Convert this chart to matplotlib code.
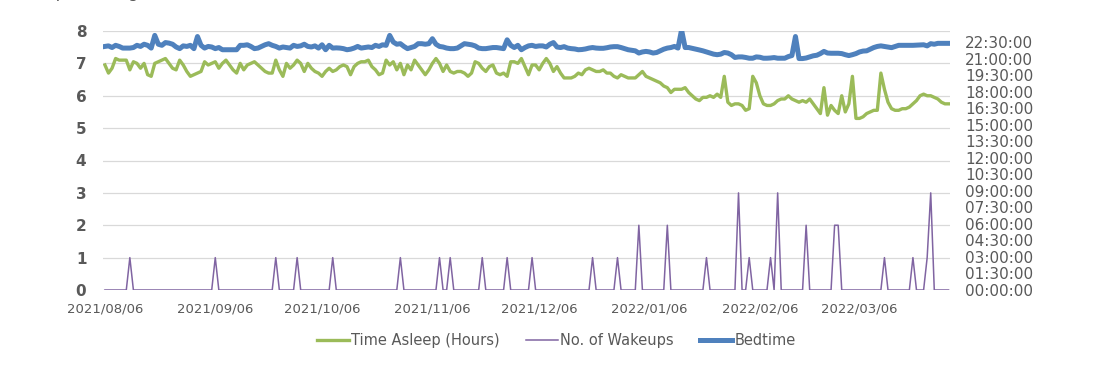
import pandas as pd
import matplotlib
matplotlib.use('Agg')
import matplotlib.pyplot as plt

# daily readings, 2021/08/06 .. 2022/03/31
start_date = '2021-08-06'

sleep_hours = [
    6.95, 6.7, 6.85, 7.15, 7.1, 7.1, 7.1, 6.8, 7.05, 7.0,
    6.85, 7.0, 6.65, 6.6, 7.0, 7.05, 7.1, 7.15, 7.0, 6.85,
    6.8, 7.1, 6.95, 6.75, 6.6, 6.65, 6.7, 6.75, 7.05, 6.95,
    7.0, 7.05, 6.85, 7.0, 7.1, 6.95, 6.8, 6.7, 7.0, 6.8,
    6.95, 7.0, 7.05, 6.95, 6.85, 6.75, 6.7, 6.7, 7.1, 6.8,
    6.6, 7.0, 6.85, 6.95, 7.1, 7.0, 6.75, 7.0, 6.85, 6.75,
    6.7, 6.6, 6.75, 6.85, 6.75, 6.8, 6.9, 6.95, 6.9, 6.65,
    6.9, 7.0, 7.05, 7.05, 7.1, 6.9, 6.8, 6.65, 6.7, 7.1,
    6.95, 7.05, 6.8, 7.0, 6.65, 6.95, 6.8, 7.1, 6.95, 6.8,
    6.65, 6.8, 7.0, 7.15, 7.0, 6.75, 6.95, 6.75, 6.7, 6.75,
    6.75, 6.7, 6.6, 6.7, 7.05, 7.0, 6.85, 6.75, 6.9, 6.95,
    6.7, 6.65, 6.7, 6.6, 7.05, 7.05, 7.0, 7.15, 6.9, 6.65,
    6.95, 6.95, 6.8, 7.0, 7.15, 7.0, 6.75, 6.9, 6.7, 6.55,
    6.55, 6.55, 6.6, 6.7, 6.65, 6.8, 6.85, 6.8, 6.75, 6.75,
    6.8, 6.7, 6.7, 6.6, 6.55, 6.65, 6.6, 6.55, 6.55, 6.55,
    6.65, 6.75, 6.6, 6.55, 6.5, 6.45, 6.4, 6.3, 6.25, 6.1,
    6.2, 6.2, 6.2, 6.25, 6.1, 6.0, 5.9, 5.85, 5.95, 5.95,
    6.0, 5.95, 6.05, 5.95, 6.6, 5.8, 5.7, 5.75, 5.75, 5.7,
    5.55, 5.6, 6.6, 6.4, 6.0, 5.75, 5.7, 5.7, 5.75, 5.85,
    5.9, 5.9, 6.0, 5.9, 5.85, 5.8, 5.85, 5.8, 5.9, 5.75,
    5.6, 5.45, 6.25, 5.4, 5.7, 5.55, 5.45, 6.0, 5.5, 5.75,
    6.6, 5.3, 5.3, 5.35, 5.45, 5.5, 5.55, 5.55, 6.7, 6.2,
    5.8, 5.6, 5.55, 5.55, 5.6, 5.6, 5.65, 5.75, 5.85, 6.0,
    6.05, 6.0, 6.0, 5.95, 5.9, 5.8, 5.75, 5.75,
]

wakeups = [
    0, 0, 0, 0, 0, 0, 0, 1, 0, 0,
    0, 0, 0, 0, 0, 0, 0, 0, 0, 0,
    0, 0, 0, 0, 0, 0, 0, 0, 0, 0,
    0, 1, 0, 0, 0, 0, 0, 0, 0, 0,
    0, 0, 0, 0, 0, 0, 0, 0, 1, 0,
    0, 0, 0, 0, 1, 0, 0, 0, 0, 0,
    0, 0, 0, 0, 1, 0, 0, 0, 0, 0,
    0, 0, 0, 0, 0, 0, 0, 0, 0, 0,
    0, 0, 0, 1, 0, 0, 0, 0, 0, 0,
    0, 0, 0, 0, 1, 0, 0, 1, 0, 0,
    0, 0, 0, 0, 0, 0, 1, 0, 0, 0,
    0, 0, 0, 1, 0, 0, 0, 0, 0, 0,
    1, 0, 0, 0, 0, 0, 0, 0, 0, 0,
    0, 0, 0, 0, 0, 0, 0, 1, 0, 0,
    0, 0, 0, 0, 1, 0, 0, 0, 0, 0,
    2, 0, 0, 0, 0, 0, 0, 0, 2, 0,
    0, 0, 0, 0, 0, 0, 0, 0, 0, 1,
    0, 0, 0, 0, 0, 0, 0, 0, 3, 0,
    0, 1, 0, 0, 0, 0, 0, 1, 0, 3,
    0, 0, 0, 0, 0, 0, 0, 2, 0, 0,
    0, 0, 0, 0, 0, 2, 2, 0, 0, 0,
    0, 0, 0, 0, 0, 0, 0, 0, 0, 1,
    0, 0, 0, 0, 0, 0, 0, 1, 0, 0,
    0, 1, 3, 0, 0, 0, 0, 0,
]

# bedtime as hour of day
bedtime_hours = [
    22.1, 22.15, 22.0, 22.2, 22.1, 21.95, 21.95, 21.95, 22.0, 22.2,
    22.1, 22.3, 22.2, 21.95, 23.1, 22.3, 22.2, 22.45, 22.4, 22.3,
    22.05, 21.9, 22.15, 22.1, 22.2, 21.9, 23.0, 22.2, 21.95, 22.1,
    22.05, 21.9, 22.0, 21.8, 21.8, 21.8, 21.8, 21.8, 22.2, 22.2,
    22.25, 22.1, 21.9, 21.95, 22.1, 22.25, 22.35, 22.2, 22.1, 21.95,
    22.05, 22.0, 21.95, 22.2, 22.1, 22.15, 22.3, 22.1, 22.05, 22.15,
    21.95, 22.25, 21.8, 22.2, 21.95, 21.97, 21.95, 21.9, 21.8, 21.85,
    21.95, 22.1, 21.95, 22.0, 22.05, 22.0, 22.2, 22.1, 22.25, 22.2,
    23.1, 22.5, 22.3, 22.35, 22.1, 21.9, 22.0, 22.1, 22.35, 22.35,
    22.3, 22.35, 22.8, 22.3, 22.1, 22.05, 21.95, 21.9, 21.9, 21.95,
    22.15, 22.35, 22.3, 22.25, 22.15, 21.95, 21.9, 21.9, 21.95, 22.0,
    22.0, 21.95, 21.9, 22.7, 22.2, 22.0, 22.2, 21.8, 22.0, 22.15,
    22.2, 22.1, 22.15, 22.15, 22.05, 22.3, 22.45, 22.05, 22.0, 22.08,
    21.95, 21.9, 21.87, 21.8, 21.82, 21.87, 21.95, 22.0, 21.95, 21.93,
    21.93, 21.98, 22.05, 22.08, 22.08, 22.0, 21.9, 21.8, 21.75, 21.7,
    21.5, 21.6, 21.65, 21.6, 21.5, 21.55, 21.7, 21.85, 21.95, 22.0,
    22.1, 21.95, 23.6, 22.0, 22.0, 21.93, 21.85, 21.78, 21.7, 21.6,
    21.5, 21.4, 21.35, 21.4, 21.55, 21.5, 21.35, 21.1, 21.15, 21.15,
    21.1, 21.03, 21.03, 21.15, 21.12, 21.03, 21.03, 21.05, 21.09, 21.03,
    21.03, 21.03, 21.18, 21.27, 23.0, 21.0, 21.0, 21.05, 21.15, 21.25,
    21.3, 21.45, 21.65, 21.5, 21.48, 21.48, 21.48, 21.45, 21.35, 21.27,
    21.35, 21.45, 21.6, 21.68, 21.7, 21.85, 22.0, 22.1, 22.15, 22.1,
    22.05, 21.99, 22.1, 22.2, 22.2, 22.2, 22.2, 22.2, 22.22, 22.25,
    22.25, 22.15, 22.35, 22.3, 22.38, 22.38, 22.38, 22.38,
]

date_ticks = ['2021-08-06', '2021-09-06', '2021-10-06', '2021-11-06',
              '2021-12-06', '2022-01-06', '2022-02-06', '2022-03-06']
hour_ticks = [i * 1.5 for i in range(16)]

dates = pd.date_range(start_date, periods=len(sleep_hours), freq='D')
data = pd.DataFrame({'sleep': sleep_hours, 'wake': wakeups,
                     'bed': bedtime_hours}, index=dates)

txt = '#595959'
fig = plt.figure(figsize=(10.99, 3.87), dpi=100)
ax = fig.add_axes([103 / 1099, 1 - 290 / 387, 847 / 1099, 259 / 387])
ax2 = ax.twinx()

l1, = ax.plot(data.index, data['sleep'], color='#9bbb59', lw=2.4,
              label='Time Asleep (Hours)', solid_joinstyle='round')
l2, = ax.plot(data.index, data['wake'], color='#8064a2', lw=1.1,
              label='No. of Wakeups')
l3, = ax2.plot(data.index, data['bed'], color='#4f81bd', lw=3.6,
               label='Bedtime', solid_joinstyle='round')

ax.set_ylim(0, 8)
ax.set_yticks(range(0, 9))
ax.grid(axis='y', color='#d9d9d9', lw=0.9)
ax.set_axisbelow(True)
ax2.set_ylim(0, 23.5)
ax2.set_yticks(hour_ticks)
ax2.set_yticklabels(['%02d:%02d:00' % (int(h), round((h % 1) * 60)) for h in hour_ticks])

xt = pd.to_datetime(date_ticks)
ax.set_xticks(xt)
ax.set_xticklabels([d.strftime('%Y/%m/%d') for d in xt])
ax.set_xlim(dates[0] - pd.Timedelta(hours=13), dates[-1] + pd.Timedelta(hours=10))

for a in (ax, ax2):
    for s in a.spines.values():
        s.set_visible(False)
    a.tick_params(length=0, colors=txt)
ax.tick_params(axis='y', labelsize=11, pad=12)
ax.tick_params(axis='x', labelsize=9.5, pad=9)
ax2.tick_params(axis='y', labelsize=11, pad=11)
for t in ax.get_yticklabels():
    t.set_fontweight('bold')

# chart title, mostly cropped off the top edge in the source image
fig.text(148 / 1099, 1 + 3 / 387, 'Sleep Readings', ha='right', va='baseline',
         fontsize=12, color=txt)

fig.legend(handles=[l1, l2, l3], loc='center', bbox_to_anchor=(0.506, 0.121),
           ncol=3, frameon=False, fontsize=10.5, labelcolor=txt,
           handlelength=2.2, handletextpad=0.15, columnspacing=1.8)

plt.savefig('out.png', dpi=100)
